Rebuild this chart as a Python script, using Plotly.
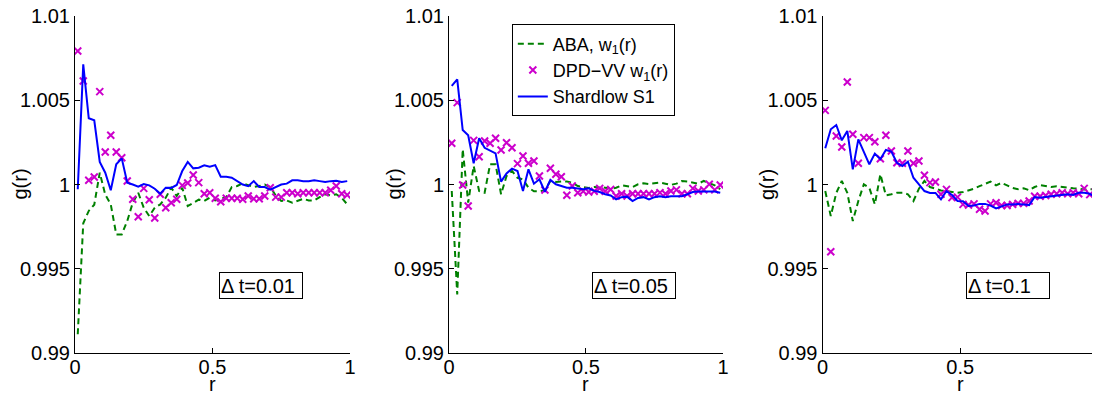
import plotly.graph_objects as go
from plotly.subplots import make_subplots

r = [0.01, 0.03, 0.05, 0.07, 0.09, 0.11, 0.13, 0.15, 0.17, 0.19,
     0.21, 0.23, 0.25, 0.27, 0.29, 0.31, 0.33, 0.35, 0.37, 0.39,
     0.41, 0.43, 0.45, 0.47, 0.49, 0.51, 0.53, 0.55, 0.57, 0.59,
     0.61, 0.63, 0.65, 0.67, 0.69, 0.71, 0.73, 0.75, 0.77, 0.79,
     0.81, 0.83, 0.85, 0.87, 0.89, 0.91, 0.93, 0.95, 0.97, 0.99]

# Delta t = 0.01
aba_001 = [0.99111, 0.9977, 0.99843, 0.9988, 1.0007, 0.9994, 0.99882, 0.99704, 0.99704, 0.99783,
           0.99892, 0.99951, 0.99862, 0.99813, 0.99862, 0.99882, 0.99922, 0.99981, 0.99932, 0.99981,
           0.99872, 0.99892, 0.9991, 0.99902, 0.99922, 0.99905, 0.99915, 0.99925, 0.99985, 0.99991,
           1.00007, 0.99995, 0.99985, 0.99991, 1.0, 0.99985, 0.99935, 0.99902, 0.99905, 0.99892,
           0.99905, 0.99915, 0.99905, 0.99905, 0.99925, 0.99942, 0.99935, 0.99942, 0.9992, 0.99882]
dpd_001 = [1.00792, 1.00614, 1.00025, 1.00045, 1.00551, 1.00193, 1.00292, 1.00193, 1.00159, 1.00021,
           0.99912, 0.99809, 0.99977, 0.9991, 0.99801, 0.99942, 0.99862, 0.99892, 0.99912, 0.99995,
           1.00009, 1.00056, 1.00011, 0.99945, 0.99951, 0.99918, 0.99898, 0.99918, 0.99918, 0.99918,
           0.99912, 0.99932, 0.99915, 0.99915, 0.99932, 0.99981, 0.99925, 0.99925, 0.99951, 0.99951,
           0.99945, 0.99951, 0.99951, 0.99951, 0.99951, 0.99951, 0.99966, 0.99991, 0.99945, 0.99938]
shd_001 = [0.99972, 1.00713, 1.00393, 1.00381, 1.00134, 1.0007, 0.99966, 1.0012, 1.00155, 1.0001,
           1.0, 0.99987, 1.00003, 0.99995, 0.99975, 0.99945, 0.99981, 0.9998, 0.99997, 1.0008,
           1.00134, 1.00096, 1.001, 1.00114, 1.00105, 1.00115, 1.00046, 1.00046, 1.0004, 1.0002,
           1.0, 0.9999, 1.0002, 0.99985, 0.99985, 0.9997, 0.99985, 1.0, 1.00005, 1.00025,
           1.00025, 1.0002, 1.0002, 1.00025, 1.0002, 1.00015, 1.0002, 1.00022, 1.00015, 1.0002]

# Delta t = 0.05
aba_005 = [0.99961, 0.99348, 1.00209, 0.99892, 1.0011, 0.99961, 0.99951, 1.0012, 1.0012, 0.99942,
           1.0005, 1.0008, 1.0004, 1.0003, 0.99981, 0.9996, 0.9996, 0.99965, 1.00021, 1.00015,
           1.00018, 1.00018, 1.00011, 0.99991, 0.99985, 0.9998, 0.99985, 0.99985, 0.99981, 0.99975,
           0.99981, 0.99995, 0.99988, 0.99985, 1.00001, 1.00007, 1.00003, 1.00005, 1.00011, 1.00005,
           0.99998, 1.00005, 1.00021, 1.00018, 1.00012, 1.00005, 1.00021, 1.0001, 0.99995, 0.99972]
dpd_005 = [1.00245, 1.00486, 0.99997, 0.99872, 1.00262, 1.00165, 1.00258, 1.00245, 1.00274, 1.00205,
           1.00248, 1.00218, 1.00124, 1.00169, 1.00126, 1.00139, 1.0005, 0.99967, 1.00096, 1.00061,
           1.00046, 0.99936, 0.99991, 0.99951, 0.9996, 0.99955, 0.9996, 0.99977, 0.9996, 0.9997,
           0.99932, 0.99945, 0.99932, 0.99945, 0.99945, 0.99945, 0.99945, 0.99945, 0.99952, 0.99945,
           0.99961, 0.99968, 0.99945, 0.99945, 0.99977, 0.99961, 0.99968, 1.00001, 0.99968, 0.99997]
shd_005 = [1.00585, 1.00624, 1.00323, 1.00292, 1.00126, 1.00274, 1.00218, 1.00199, 1.00185, 1.00017,
           1.00066, 1.00094, 1.0008, 0.99961, 1.0009, 1.00005, 1.00031, 0.99957, 1.00027, 1.00001,
           0.9999, 0.99981, 0.9998, 0.99975, 0.99972, 0.99977, 0.99962, 0.99955, 0.99942, 0.99935,
           0.99912, 0.99925, 0.99928, 0.99902, 0.9992, 0.99925, 0.99912, 0.99925, 0.9993, 0.99925,
           0.9993, 0.9993, 0.9993, 0.99942, 0.99955, 0.99958, 0.99958, 0.99955, 0.99958, 0.99951]

# Delta t = 0.1
aba_01 = [0.99961, 0.99813, 0.9995, 1.00021, 0.99951, 0.99783, 0.99902, 1.00001, 0.9998, 0.99882,
          1.00061, 0.99935, 0.99942, 0.99951, 0.99951, 0.99942, 0.99902, 0.99975, 1.00021, 0.99985,
          0.99975, 0.99965, 0.99961, 0.99955, 0.99951, 0.99955, 0.99965, 0.99975, 0.9999, 1.00005,
          1.00017, 0.99995, 1.0001, 0.99995, 0.9998, 0.99972, 0.99978, 0.99966, 0.99985, 0.99997,
          0.9999, 0.99985, 0.9999, 0.99985, 0.9998, 0.99978, 0.99975, 0.9997, 0.99972, 0.99972]
dpd_01 = [1.0044, 0.99601, 1.00288, 1.00223, 1.00608, 1.00298, 1.00126, 1.00278, 1.00278, 1.00254,
          1.00153, 1.00292, 1.00199, 1.00129, 1.00126, 1.00199, 1.00126, 1.00139, 1.00055, 1.00011,
          1.00015, 0.99942, 0.99971, 0.99922, 0.99925, 0.99882, 0.99878, 0.99885, 0.99853, 0.99843,
          0.99885, 0.99892, 0.99875, 0.99875, 0.99882, 0.99888, 0.99888, 0.99902, 0.9993, 0.9993,
          0.99935, 0.99942, 0.99945, 0.99951, 0.99945, 0.99951, 0.99945, 0.99977, 0.9994, 0.99957]
shd_01 = [1.00215, 1.00328, 1.00353, 1.00262, 1.00318, 1.0009, 1.00268, 1.00189, 1.0012, 1.00183,
          1.0015, 1.00205, 1.00195, 1.00129, 1.0011, 1.00135, 1.0004, 1.00001, 0.99961, 0.9995,
          0.9995, 0.99912, 0.99961, 0.99938, 0.99902, 0.999, 0.99872, 0.99875, 0.99885, 0.99885,
          0.99875, 0.99858, 0.99868, 0.99882, 0.99882, 0.99885, 0.99882, 0.99878, 0.99926, 0.99922,
          0.99926, 0.9993, 0.99935, 0.99935, 0.99942, 0.99938, 0.99951, 0.99951, 0.99945, 0.99926]

panel_labels = ["\u0394 t=0.01", "\u0394 t=0.05", "\u0394 t=0.1"]
series_names = ["ABA, w<sub>1</sub>(r)", "DPD\u2212VV w<sub>1</sub>(r)", "Shardlow S1"]
y_tickvals = [0.99, 0.995, 1.0, 1.005, 1.01]
y_ticktext = ["0.99", "0.995", "1", "1.005", "1.01"]
x_tickvals = [0, 0.5, 1]
x_ticktext = ["0", "0.5", "1"]

panels = [(aba_001, dpd_001, shd_001), (aba_005, dpd_005, shd_005), (aba_01, dpd_01, shd_01)]

GREEN = "#008000"
MAG = "#cc00cc"
BLUE = "#0000ff"
FONT = "Liberation Sans, Arial, Helvetica, sans-serif"
FS = 20

fig = make_subplots(rows=1, cols=3)

for i, (aba, dpd, shd) in enumerate(panels):
    show = (i == 0)
    fig.add_trace(go.Scatter(x=r, y=aba, mode="lines", name=series_names[0],
                             line=dict(color=GREEN, width=2, dash="6px,4px"),
                             showlegend=show, legendrank=1), row=1, col=i + 1)
    fig.add_trace(go.Scatter(x=r, y=dpd, mode="markers", name=series_names[1],
                             marker=dict(symbol="x-thin", size=7, color=MAG,
                                         line=dict(color=MAG, width=2)),
                             showlegend=show, legendrank=2), row=1, col=i + 1)
    fig.add_trace(go.Scatter(x=r, y=shd, mode="lines", name=series_names[2],
                             line=dict(color=BLUE, width=2),
                             showlegend=show, legendrank=3), row=1, col=i + 1)

domains = [[0.0, 0.2688], [0.3656, 0.6334], [0.7307, 1.0]]
for i in range(3):
    xa = "xaxis" if i == 0 else f"xaxis{i+1}"
    ya = "yaxis" if i == 0 else f"yaxis{i+1}"
    fig.layout[xa].update(domain=domains[i], range=[0, 1], tickvals=x_tickvals,
                          ticktext=x_ticktext, ticks="inside", ticklen=5,
                          tickcolor="black", showline=True, linecolor="black",
                          linewidth=1, showgrid=False, zeroline=False,
                          automargin=False, ticklabeloverflow="allow",
                          ticklabelstandoff=-4,
                          tickfont=dict(family=FONT, size=FS, color="black"))
    fig.layout[ya].update(range=[0.99, 1.01], tickvals=y_tickvals, ticktext=y_ticktext,
                          ticks="inside", ticklen=5, tickcolor="black", showline=True,
                          linecolor="black", linewidth=1, showgrid=False, zeroline=False,
                          automargin=False, ticklabeloverflow="allow",
                          tickfont=dict(family=FONT, size=FS, color="black"))
    xref = "x" if i == 0 else f"x{i+1}"
    yref = "y" if i == 0 else f"y{i+1}"
    fig.add_annotation(xref=f"{xref} domain", yref=f"{yref} domain", x=0, y=0.5,
                       xanchor="center", xshift=-56, text="g(r)", textangle=-90,
                       showarrow=False,
                       font=dict(family=FONT, size=FS, color="black"))
    fig.add_annotation(xref=f"{xref} domain", yref="paper", x=0.5, y=0,
                       yshift=-31, text="r", showarrow=False, yanchor="middle",
                       font=dict(family=FONT, size=FS, color="black"))
    fig.add_annotation(xref=f"{xref} domain", yref=f"{yref} domain", x=0.675, y=0.2,
                       xanchor="center", yanchor="middle",
                       text=panel_labels[i], showarrow=False, align="left",
                       width=80, height=23, borderpad=1, bordercolor="black",
                       borderwidth=1, bgcolor="white",
                       font=dict(family=FONT, size=FS, color="black"))

fig.update_layout(
    width=1092, height=388,
    margin=dict(l=67, r=2, t=8, b=43, autoexpand=False),
    plot_bgcolor="white", paper_bgcolor="white",
    font=dict(family=FONT, size=FS, color="black"),
    legend=dict(x=0.427, y=0.975, xanchor="left", yanchor="top",
                bordercolor="black", borderwidth=1, bgcolor="white",
                font=dict(family=FONT, size=18, color="black"),
                itemwidth=30, tracegroupgap=0),
)

fig.write_html("out.html")
